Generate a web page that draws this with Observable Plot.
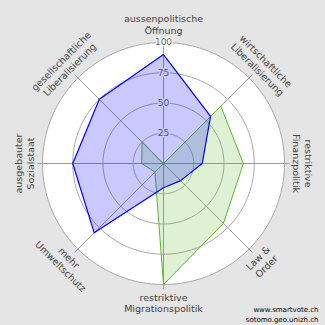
<!DOCTYPE html>
<html><head><meta charset="utf-8">
<script src="https://cdn.jsdelivr.net/npm/d3@7"></script>
<script src="https://cdn.jsdelivr.net/npm/@observablehq/plot@0.6"></script>
<style>
html,body{margin:0;padding:0;background:#e5e5e5;}
#chart svg{display:block;}
</style></head><body><div id="chart"></div>
<script>
const axes = ["aussenpolitische\nÖffnung", "wirtschaftliche\nLiberalisierung", "restriktive\nFinanzpolitik", "Law &\nOrder", "restriktive\nMigrationspolitik", "mehr\nUmweltschutz", "ausgebauter\nSozialstaat", "gesellschaftliche\nLiberalisierung"];
const seriesBlue = [90, 55, 32, 20, 20, 81, 75, 75];
const seriesGreen = [0, 67, 66, 70, 100, 10, 18, 25];
const ticks = [25, 50, 75, 100];
const footer = ["www.smartvote.ch", "sotomo.geo.unizh.ch"];

const W = 325, H = 325;
const cx = 163, cy = 163, R = 121;
const k = R / 100;
const n = axes.length;
const ang = i => i * 2 * Math.PI / n;
const px = (i, v) => v * Math.sin(ang(i));
const py = (i, v) => v * Math.cos(ang(i));

const poly = vals => vals.map((v, i) => ({x: px(i, v), y: py(i, v)}));
const ringPts = ticks.flatMap(t => d3.range(0, 360, 2).map(a => ({t, x: t * Math.sin(a * Math.PI / 180), y: t * Math.cos(a * Math.PI / 180)})));
const rot = i => { const d = i * 360 / n; return d <= 90 ? d : d < 270 ? d - 180 : d - 360; };
const labelR = 115;

const chart = Plot.plot({
  width: W, height: H, margin: 0,
  x: {domain: [-cx / k, (W - cx) / k], axis: null},
  y: {domain: [-(H - cy) / k, cy / k], axis: null},
  style: {background: "#e5e5e5", fontFamily: "DejaVu Sans"},
  marks: [
    Plot.line(ringPts.filter(d => d.t === 100), {x: "x", y: "y", curve: "linear-closed", fill: "white", stroke: "none"}),
    Plot.line(ringPts, {x: "x", y: "y", z: "t", curve: "linear-closed", stroke: "#a8a8a8", strokeWidth: 1}),
    Plot.link(axes, {x1: 0, y1: 0, x2: (d, i) => px(i, 104), y2: (d, i) => py(i, 104), stroke: "#9a9a9a", strokeWidth: 1}),
    Plot.text(ticks, {x: 0, y: d => d, text: d => String(d), fill: "#666", stroke: "white", strokeWidth: 2.5, fontSize: 9}),
    Plot.line(poly(seriesGreen), {x: "x", y: "y", curve: "linear-closed", fill: "#5cb82e", fillOpacity: 0.2, stroke: "#5cb82e", strokeWidth: 1}),
    Plot.line(poly(seriesBlue), {x: "x", y: "y", curve: "linear-closed", fill: "#0000ff", fillOpacity: 0.21, stroke: "#0000ff", strokeWidth: 1.2}),
    Plot.text(axes, {x: (d, i) => px(i, labelR), y: (d, i) => py(i, labelR), rotate: (d, i) => rot(i), text: d => d, fontSize: 9.5, lineHeight: 1.25, fill: "#444"}),
    Plot.text([footer.join("\n")], {frameAnchor: "bottom-right", dx: -7, dy: -4, textAnchor: "end", lineAnchor: "bottom", fontSize: 7, lineHeight: 1.4, fill: "#000"})
  ]
});
document.getElementById("chart").appendChild(chart);
</script></body></html>
